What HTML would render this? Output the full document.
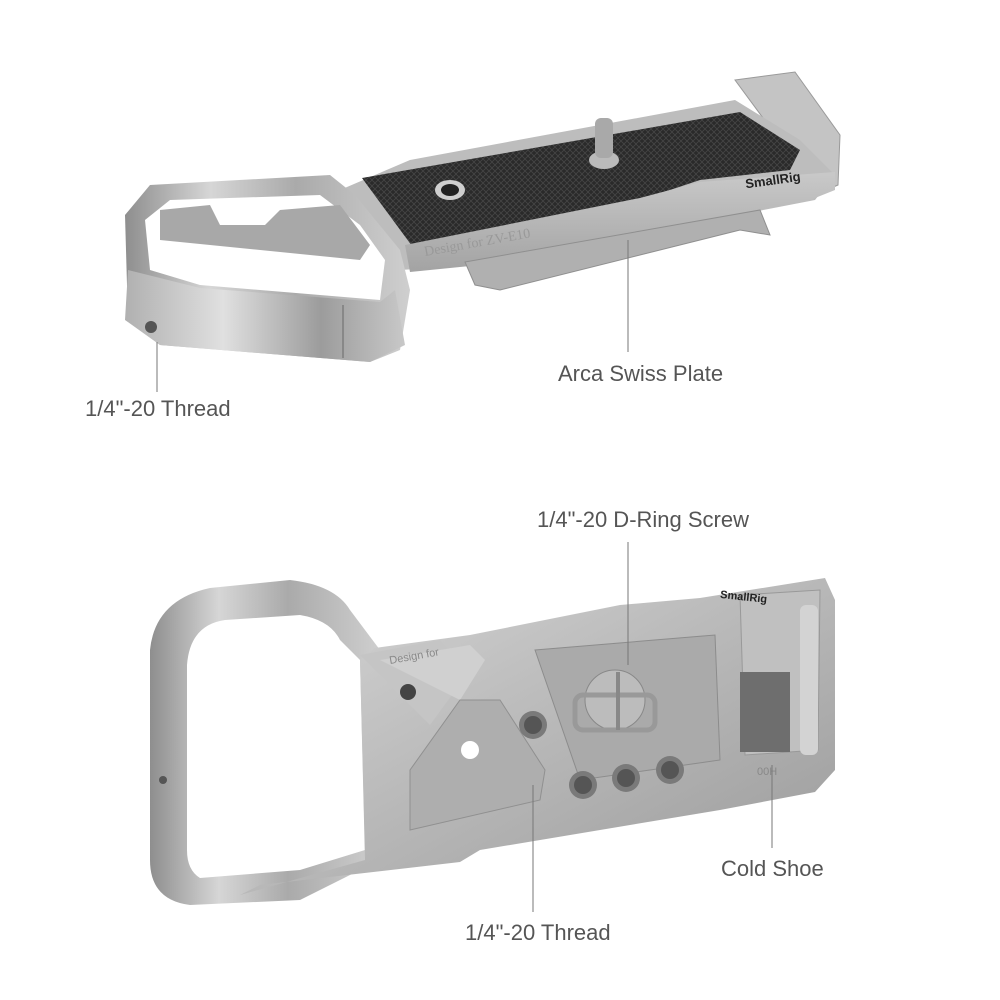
<!DOCTYPE html>
<html><head><meta charset="utf-8"><style>
html,body{margin:0;padding:0;background:#fff;}
.l{position:absolute;font-family:"Liberation Sans",sans-serif;font-size:22px;color:#555;white-space:nowrap;}
</style></head><body>
<div style="position:relative;width:1000px;height:1000px;overflow:hidden;">
<svg width="1000" height="1000" viewBox="0 0 1000 1000" style="position:absolute;left:0;top:0">
<defs>
<linearGradient id="s1" x1="0" y1="0" x2="1" y2="1"><stop offset="0" stop-color="#d8d8d8"/><stop offset="0.5" stop-color="#b8b8b8"/><stop offset="1" stop-color="#9a9a9a"/></linearGradient>
<linearGradient id="s2" x1="0" y1="0" x2="1" y2="0"><stop offset="0" stop-color="#8e8e8e"/><stop offset="0.3" stop-color="#d6d6d6"/><stop offset="0.6" stop-color="#aaaaaa"/><stop offset="1" stop-color="#cfcfcf"/></linearGradient>
<linearGradient id="s3" x1="0" y1="0" x2="0" y2="1"><stop offset="0" stop-color="#c9c9c9"/><stop offset="1" stop-color="#a3a3a3"/></linearGradient>
<linearGradient id="s4" x1="0" y1="0" x2="1" y2="0"><stop offset="0" stop-color="#b0b0b0"/><stop offset="0.35" stop-color="#e0e0e0"/><stop offset="0.7" stop-color="#9c9c9c"/><stop offset="1" stop-color="#c8c8c8"/></linearGradient>
<pattern id="kn" width="6" height="6" patternUnits="userSpaceOnUse"><rect width="6" height="6" fill="#2a2a2a"/><path d="M0 0L6 6M6 0L0 6" stroke="#454545" stroke-width="0.8"/></pattern>
</defs>
<!-- TOP PART -->
<path d="M735 80 L795 72 L840 135 L838 185 L815 195 L805 175 Z" fill="#c4c4c4" stroke="#9a9a9a"/>
<path d="M340 190 L410 160 L735 100 L800 140 L835 175 L815 200 L480 265 L400 270 Z" fill="#bdbdbd"/>
<path d="M362 178 L740 112 L800 150 L790 170 L700 180 L640 200 L412 246 Z" fill="url(#kn)"/>
<path d="M405 245 L640 198 L700 182 L835 172 L835 190 L810 200 L480 265 L410 272 Z" fill="url(#s3)"/>
<path d="M465 262 L760 210 L770 235 L740 230 L500 290 L475 285 Z" fill="#b0b0b0" stroke="#8f8f8f"/>
<!-- grip loop -->
<path d="M125 215 L150 185 L330 175 L355 195 L400 250 L410 290 L400 350 L370 362 L160 345 L128 320 Z" fill="url(#s2)"/>
<path d="M145 220 L170 200 L320 195 L360 225 L385 260 L380 300 L200 285 L150 270 Z" fill="#fff"/>
<path d="M160 210 L210 205 L220 225 L265 225 L280 210 L340 205 L370 245 L360 260 L160 240 Z" fill="#a8a8a8"/>
<path d="M128 270 L200 288 L380 302 L395 290 L405 345 L370 362 L160 345 L125 320 Z" fill="url(#s4)"/>
<line x1="343" y1="305" x2="343" y2="358" stroke="#888" stroke-width="2"/>
<circle cx="151" cy="327" r="6" fill="#555"/>
<ellipse cx="450" cy="190" rx="15" ry="10" fill="#cfcfcf"/><ellipse cx="450" cy="190" rx="9" ry="6" fill="#222"/>
<ellipse cx="604" cy="160" rx="15" ry="9" fill="#bbb"/>
<rect x="595" y="118" width="18" height="40" rx="6" fill="#a9a9a9"/>
<text x="745" y="185" font-family="Liberation Sans" font-weight="bold" font-size="13" fill="#222" transform="rotate(-8 770 180)">SmallRig</text>
<text x="425" y="256" font-family="Liberation Serif" font-size="14" fill="#999" transform="rotate(-10 425 256)">Design for ZV-E10</text>
<!-- BOTTOM PART -->
<path d="M150 650 Q155 600 210 588 L290 580 Q335 585 350 610 L380 650 L380 860 L300 900 L190 905 Q150 900 150 860 Z" fill="url(#s2)"/>
<path d="M187 665 Q190 625 225 620 L300 615 Q330 620 340 640 L360 660 L365 850 L300 870 L200 878 Q187 870 187 850 Z" fill="#fff"/>
<path d="M375 648 L470 635 L620 605 L700 598 L825 578 L835 600 L835 770 L815 792 L720 810 L480 850 L460 862 L260 885 L240 895 L365 860 L360 660 Z" fill="url(#s1)"/>
<path d="M360 655 L440 640 L470 670 L430 725 L395 690 Z" fill="#c5c5c5"/>
<path d="M380 660 L470 645 L485 660 L460 700 Z" fill="#d0d0d0"/>
<path d="M535 650 L715 635 L720 760 L580 780 Z" fill="#aaa" stroke="#8c8c8c"/>
<path d="M410 770 L460 700 L500 700 L545 770 L540 800 L410 830 Z" fill="#aeaeae" stroke="#909090"/>
<path d="M740 595 L820 590 L818 750 L745 755 Z" fill="#c0c0c0" stroke="#999"/>
<rect x="740" y="672" width="50" height="80" fill="#6e6e6e"/>
<rect x="800" y="605" width="18" height="150" rx="6" fill="#d3d3d3"/>
<circle cx="615" cy="700" r="30" fill="#bcbcbc" stroke="#888"/>
<rect x="575" y="695" width="80" height="35" rx="8" fill="none" stroke="#999" stroke-width="5"/>
<path d="M618 672 L618 730" stroke="#888" stroke-width="4"/>
<circle cx="533" cy="725" r="14" fill="#7a7a7a"/><circle cx="533" cy="725" r="9" fill="#555"/>
<circle cx="583" cy="785" r="14" fill="#7a7a7a"/><circle cx="583" cy="785" r="9" fill="#555"/>
<circle cx="626" cy="778" r="14" fill="#7a7a7a"/><circle cx="626" cy="778" r="9" fill="#555"/>
<circle cx="670" cy="770" r="14" fill="#7a7a7a"/><circle cx="670" cy="770" r="9" fill="#555"/>
<circle cx="470" cy="750" r="9" fill="#fff"/>
<circle cx="408" cy="692" r="8" fill="#444"/>
<circle cx="163" cy="780" r="4" fill="#555"/>
<text x="720" y="600" font-family="Liberation Sans" font-weight="bold" font-size="11" fill="#222" transform="rotate(6 740 598)">SmallRig</text>
<text x="390" y="664" font-family="Liberation Sans" font-size="11" fill="#888" transform="rotate(-10 390 664)">Design for</text>
<text x="757" y="775" font-family="Liberation Sans" font-size="11" fill="#888">00H</text>
<g stroke="#777" stroke-width="1">
<line x1="157" y1="342" x2="157" y2="392"/>
<line x1="628" y1="240" x2="628" y2="352"/>
<line x1="628" y1="542" x2="628" y2="665"/>
<line x1="772" y1="765" x2="772" y2="848"/>
<line x1="533" y1="785" x2="533" y2="912"/>
</g>
</svg>
<div class="l" style="left:85px;top:396px">1/4"-20 Thread</div>
<div class="l" style="left:558px;top:361px">Arca Swiss Plate</div>
<div class="l" style="left:537px;top:507px">1/4"-20 D-Ring Screw</div>
<div class="l" style="left:721px;top:856px">Cold Shoe</div>
<div class="l" style="left:465px;top:920px">1/4"-20 Thread</div>
</div>
</body></html>
